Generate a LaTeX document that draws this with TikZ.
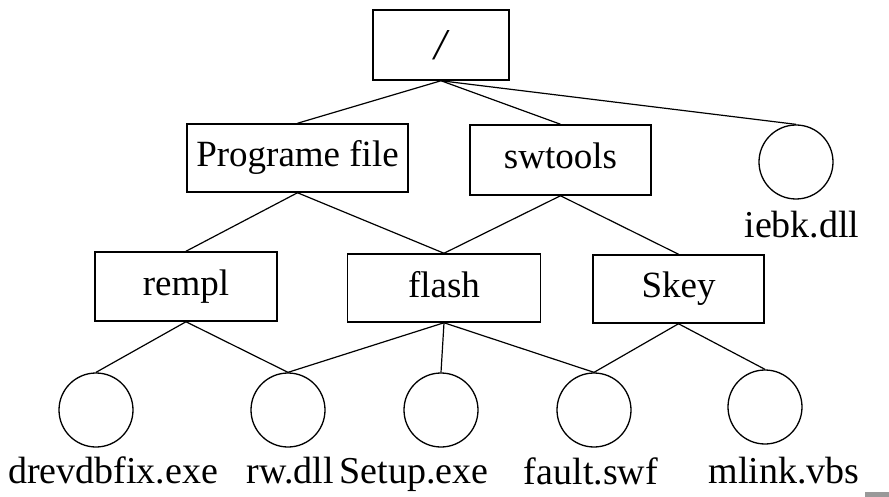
\documentclass[tikz,border=0pt]{standalone}
\usepackage{fontspec}
\setmainfont{Liberation Serif}
\begin{document}
\begin{tikzpicture}[x=1pt,y=-1pt,
  dirbox/.style={draw, line width=1.5pt, inner sep=0pt, text height=26pt, text depth=8pt, font=\fontsize{37}{40}\selectfont},
  leaf/.style={draw, circle, line width=1.3pt, minimum size=74pt, inner sep=0pt},
  leaflabel/.style={anchor=base, inner sep=0pt, font=\fontsize{38}{40}\selectfont},
  link/.style={line width=1.2pt}]
\useasboundingbox (0,0) rectangle (889,497);
% directory boxes
\node[dirbox, minimum width=136pt, minimum height=70pt] (root) at (441,45) {};
\node[inner sep=0pt, font=\fontsize{44}{46}\selectfont\itshape] (slash) at (441,45) {/};
\node[dirbox, minimum width=221pt, minimum height=68pt] (prog) at (297.5,158) {Programe file};
\node[dirbox, minimum width=181pt, minimum height=70pt] (swt) at (560.5,160) {swtools};
\node[dirbox, minimum width=182pt, minimum height=69pt] (rempl) at (186,286.5) {rempl};
\node[dirbox, minimum width=193pt, minimum height=68pt] (flash) at (444,288) {flash};
\node[dirbox, minimum width=171pt, minimum height=68pt] (skey) at (678.5,289) {Skey};
% files
\node[leaf] (iebk) at (796,162) {};
\node[leaf] (c1) at (96,410) {};
\node[leaf] (c2) at (288,410) {};
\node[leaf] (c3) at (441,410) {};
\node[leaf] (c4) at (594,410) {};
\node[leaf] (c5) at (765,407) {};
% labels
\node[leaflabel] (l0) at (802,238) {iebk.dll};
\node[leaflabel] (l1) at (113,483) {drevdbfix.exe};
\node[leaflabel] (l2) at (290,483) {rw.dll};
\node[leaflabel] (l3) at (414,483) {Setup.exe};
\node[leaflabel] (l4) at (591,484) {fault.swf};
\node[leaflabel] (l5) at (784,483) {mlink.vbs};
% connectors
\draw[link] (root.south) -- (prog.north);
\draw[link] (root.south) -- (swt.north);
\draw[link] (root.south) -- (iebk.north);
\draw[link] (prog.south) -- (rempl.north);
\draw[link] (prog.south) -- (flash.north);
\draw[link] (swt.south) -- (flash.north);
\draw[link] (swt.south) -- (skey.north);
\draw[link] (rempl.south) -- (c1.north);
\draw[link] (rempl.south) -- (c2.north);
\draw[link] (flash.south) -- (c2.north);
\draw[link] (flash.south) -- (c3.north);
\draw[link] (flash.south) -- (c4.north);
\draw[link] (skey.south) -- (c4.north);
\draw[link] (skey.south) -- (c5.north);
% scan artefact
\fill[gray!80] (865,492) rectangle (889,497);
\end{tikzpicture}
\end{document}
